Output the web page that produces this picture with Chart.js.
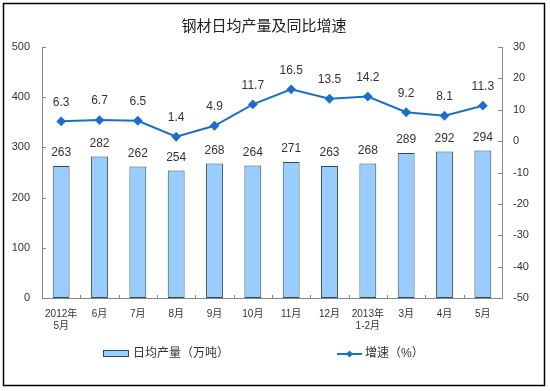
<!DOCTYPE html>
<html>
<head>
<meta charset="utf-8">
<script src="https://cdn.jsdelivr.net/npm/chart.js@4.4.0/dist/chart.umd.min.js"></script>
<style>
  html, body { margin: 0; padding: 0; background: #fff; }
  #wrap { width: 550px; height: 391px; position: relative; }
</style>
</head>
<body>
<div id="wrap"><canvas id="steelChart" width="550" height="391"></canvas></div>
<script>
// chart data
const months = [["2012年", "5月"], "6月", "7月", "8月", "9月", "10月", "11月", "12月", ["2013年", "1-2月"], "3月", "4月", "5月"];
const dailyOutput = [263, 282, 262, 254, 268, 264, 271, 263, 268, 289, 292, 294];
const growthRate = [6.3, 6.7, 6.5, 1.4, 4.9, 11.7, 16.5, 13.5, 14.2, 9.2, 8.1, 11.3];
const titleText = "钢材日均产量及同比增速";
const barLabel = "日均产量（万吨）";
const lineLabel = "增速（%）";

const FONT = "'Liberation Sans', 'Noto Sans CJK SC', sans-serif";
const LINE_COLOR = "#1B6FC8";

// draws title, border, value labels, inner ticks and legend
const decorPlugin = {
    id: "decor",
    afterDraw(chart) {
        const ctx = chart.ctx;
        const area = chart.chartArea;
        ctx.save();

        // outer frame
        ctx.strokeStyle = "#000";
        ctx.lineWidth = 1.5;
        ctx.strokeRect(3.5, 3.5, 541, 382);

        // title
        ctx.fillStyle = "#222";
        ctx.font = "15px 'Noto Sans CJK SC', sans-serif";
        ctx.textAlign = "center";
        ctx.textBaseline = "middle";
        ctx.fillText(titleText, 264, 25);

        // inner ticks
        ctx.strokeStyle = "#888";
        ctx.lineWidth = 1;
        const yL = chart.scales.y;
        const yR = chart.scales.y1;
        yL.ticks.forEach(t => {
            const py = Math.round(yL.getPixelForValue(t.value)) + 0.5;
            ctx.beginPath();
            ctx.moveTo(area.left, py);
            ctx.lineTo(area.left + 4, py);
            ctx.stroke();
        });
        yR.ticks.forEach(t => {
            const py = Math.round(yR.getPixelForValue(t.value)) + 0.5;
            ctx.beginPath();
            ctx.moveTo(area.right - 4, py);
            ctx.lineTo(area.right, py);
            ctx.stroke();
        });
        const step = (area.right - area.left) / months.length;
        for (let i = 1; i < months.length; i++) {
            const px = Math.round(area.left + step * i) + 0.5;
            ctx.beginPath();
            ctx.moveTo(px, area.bottom);
            ctx.lineTo(px, area.bottom - 3);
            ctx.stroke();
        }

        // value labels
        ctx.font = "12px " + FONT;
        ctx.fillStyle = "#333";
        ctx.textAlign = "center";
        ctx.textBaseline = "middle";
        chart.getDatasetMeta(0).data.forEach((bar, i) => {
            ctx.fillText(String(dailyOutput[i]), bar.x, bar.y - 13);
        });
        chart.getDatasetMeta(1).data.forEach((pt, i) => {
            ctx.fillText(growthRate[i].toFixed(1), pt.x, pt.y - 19);
        });

        // legend
        ctx.fillStyle = "#99CCFF";
        ctx.fillRect(103, 350, 25, 6);
        ctx.strokeStyle = "#2F4F4F";
        ctx.strokeRect(103.5, 350.5, 25, 6);
        ctx.fillStyle = "#333";
        ctx.font = "12px " + FONT;
        ctx.textAlign = "left";
        ctx.fillText(barLabel, 133, 354);

        ctx.strokeStyle = LINE_COLOR;
        ctx.lineWidth = 2;
        ctx.beginPath();
        ctx.moveTo(337, 354);
        ctx.lineTo(362, 354);
        ctx.stroke();
        ctx.fillStyle = LINE_COLOR;
        ctx.beginPath();
        ctx.moveTo(349.5, 350.5);
        ctx.lineTo(353, 354);
        ctx.lineTo(349.5, 357.5);
        ctx.lineTo(346, 354);
        ctx.closePath();
        ctx.fill();
        ctx.fillStyle = "#333";
        ctx.fillText(lineLabel, 365, 354);

        ctx.restore();
    }
};

const ctx = document.getElementById("steelChart").getContext("2d");
new Chart(ctx, {
    type: "bar",
    data: {
        labels: months,
        datasets: [{
                type: "bar",
                label: barLabel,
                data: dailyOutput,
                backgroundColor: "#99CCFF",
                borderColor: "#2F4F4F",
                borderWidth: 1,
                borderSkipped: false,
                barPercentage: 0.44,
                categoryPercentage: 1,
                yAxisID: "y",
                order: 2
            }, {
                type: "line",
                label: lineLabel,
                data: growthRate,
                borderColor: LINE_COLOR,
                backgroundColor: LINE_COLOR,
                borderWidth: 2,
                pointStyle: "rectRot",
                pointRadius: 3.5,
                yAxisID: "y1",
                order: 1
            }]
    },
    options: {
        responsive: false,
        animation: false,
        layout: {padding: {top: 47, left: 0, right: 0, bottom: 0}},
        plugins: {
            legend: {display: false},
            title: {display: false},
            tooltip: {enabled: false}
        },
        scales: {
            x: {
                grid: {display: false, drawTicks: false, tickLength: 0},
                border: {display: true, color: "#888"},
                ticks: {
                    color: "#333",
                    font: {family: FONT, size: 10},
                    padding: 10,
                    maxRotation: 0,
                    autoSkip: false
                },
                afterFit(scale) { scale.height = 93; }
            },
            y: {
                position: "left",
                min: 0,
                max: 500,
                grid: {display: false, drawTicks: false, tickLength: 0},
                border: {display: true, color: "#888"},
                ticks: {
                    stepSize: 100,
                    color: "#333",
                    font: {family: FONT, size: 11},
                    padding: 12
                },
                afterFit(scale) { scale.width = 42; }
            },
            y1: {
                position: "right",
                min: -50,
                max: 30,
                grid: {display: false, drawTicks: false, tickLength: 0},
                border: {display: true, color: "#888"},
                ticks: {
                    stepSize: 10,
                    color: "#333",
                    font: {family: FONT, size: 11},
                    padding: 11
                },
                afterFit(scale) { scale.width = 48; }
            }
        }
    },
    plugins: [decorPlugin]
});
</script>
</body>
</html>
